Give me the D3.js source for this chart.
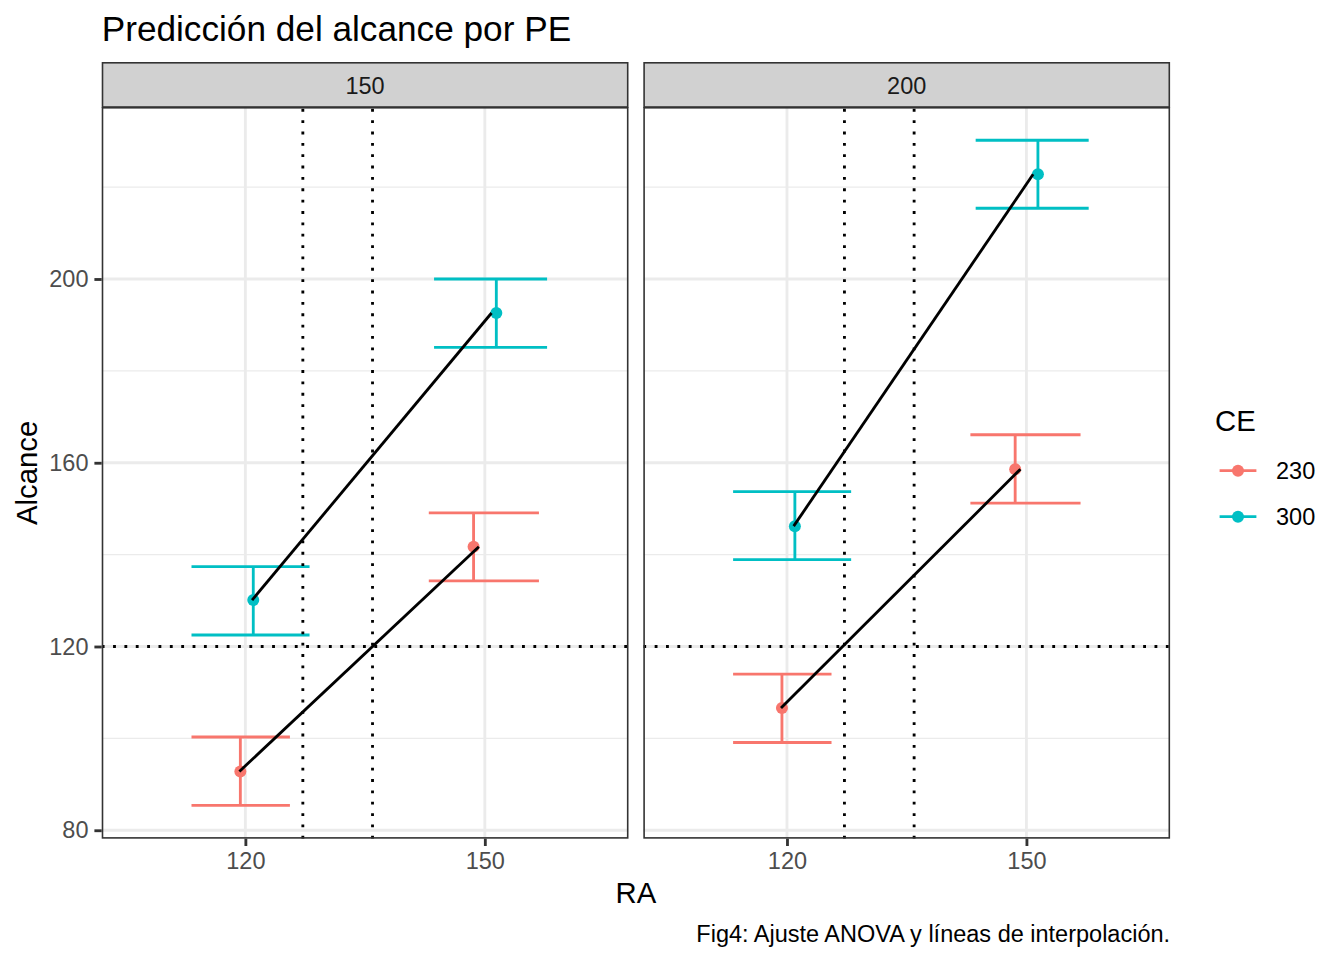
<html>
<script src="https://d3js.org/d3.v7.min.js"></script>
<style>
body{margin:0;background:#fff;}
</style>
<body>
<svg id="chart" width="1344" height="960"></svg>
<script>
// facetas (PE), niveles del eje x (RA), grupos de color (CE)
const paneles = ['150', '200'];
const niveles = ['120', '150'];
const grupos = ['230', '300'];
const colores = ['#F8766D', '#00BFC4'];

// ajuste ANOVA, formato largo
const pe       = ['150', '150', '150', '150', '200', '200', '200', '200'];
const ra       = ['120', '150', '120', '150', '120', '150', '120', '150'];
const ce       = ['230', '230', '300', '300', '230', '230', '300', '300'];
const ajuste   = [92.8, 141.7, 130.1, 192.6, 106.6, 158.6, 146.2, 222.8];
const inferior = [85.4, 134.3, 122.5, 185.1, 99.1, 151.2, 138.9, 215.4];
const superior = [100.3, 149.1, 137.4, 200.0, 114.0, 166.1, 153.7, 230.2];

// jitter (unidades del eje discreto)
const jitX    = [-0.021, -0.047, 0.033, 0.048, -0.021, -0.047, 0.033, 0.048];
const jitXmin = [-0.225, -0.234, -0.225, -0.212, -0.225, -0.234, -0.225, -0.212];
const jitXmax = [0.186, 0.226, 0.268, 0.260, 0.186, 0.226, 0.268, 0.260];
const jitLinea = [-0.025, 0.028];

// lineas de interpolacion
const corteY = [120];
const cortesX = [1.24, 1.531];

const yTicks = [80, 120, 160, 200];
const yMenores = [100, 140, 180, 220];

const FONT = '"Liberation Sans", Arial, Helvetica, sans-serif';
const lw = 2.84;
const panelTop = 107, panelBottom = 838.7;
const panelX = [[101.7, 628.5], [643.3, 1170.1]];

const svg = d3.select('#chart').attr('font-family', FONT);

const lo = d3.min(inferior), hi = d3.max(superior), pad = (hi - lo) * 0.05;
const y = d3.scaleLinear().domain([lo - pad, hi + pad]).range([panelBottom, panelTop]);
const pos = r => niveles.indexOf(r) + 1;
const color = c => colores[grupos.indexOf(c)];

function styleAxis(g){
  g.select('.domain').remove();
  g.attr('font-family', FONT).attr('font-size', 23.5);
  g.selectAll('line').attr('stroke', '#333333').attr('stroke-width', lw);
  g.selectAll('text').attr('fill', '#4D4D4D');
}

paneles.forEach((p, k) => {
  const [x0, x1] = panelX[k];
  const x = d3.scaleLinear().domain([0.4, 2.6]).range([x0, x1]);

  svg.append('clipPath').attr('id', 'clip' + k)
    .append('rect').attr('x', x0).attr('y', panelTop)
    .attr('width', x1 - x0).attr('height', panelBottom - panelTop);

  const g = svg.append('g').attr('clip-path', `url(#clip${k})`);

  g.append('rect').attr('x', x0).attr('y', panelTop)
    .attr('width', x1 - x0).attr('height', panelBottom - panelTop).attr('fill', '#fff');

  g.selectAll('.menor').data(yMenores).enter().append('line')
    .attr('x1', x0).attr('x2', x1).attr('y1', d => y(d)).attr('y2', d => y(d))
    .attr('stroke', '#EBEBEB').attr('stroke-width', lw / 2);
  g.selectAll('.mayorY').data(yTicks).enter().append('line')
    .attr('x1', x0).attr('x2', x1).attr('y1', d => y(d)).attr('y2', d => y(d))
    .attr('stroke', '#EBEBEB').attr('stroke-width', lw);
  g.selectAll('.mayorX').data(niveles).enter().append('line')
    .attr('x1', d => x(pos(d))).attr('x2', d => x(pos(d)))
    .attr('y1', panelTop).attr('y2', panelBottom)
    .attr('stroke', '#EBEBEB').attr('stroke-width', lw);

  const filas = d3.range(pe.length).filter(i => pe[i] === p);

  // barras de error
  g.selectAll('.err').data(filas).enter().append('path')
    .attr('d', i => {
      const c = pos(ra[i]);
      const xa = x(c + jitXmin[i]), xb = x(c + jitXmax[i]), xm = x(c + jitX[i]);
      const yu = y(superior[i]), yl = y(inferior[i]);
      return `M${xa},${yu}H${xb}M${xm},${yu}V${yl}M${xa},${yl}H${xb}`;
    })
    .attr('fill', 'none').attr('stroke', i => color(ce[i])).attr('stroke-width', lw);

  // puntos
  g.selectAll('.pt').data(filas).enter().append('circle')
    .attr('cx', i => x(pos(ra[i]) + jitX[i])).attr('cy', i => y(ajuste[i]))
    .attr('r', 6).attr('fill', i => color(ce[i]));

  // lineas de ajuste
  const linea = d3.line()
    .x(i => x(pos(ra[i]) + jitLinea[grupos.indexOf(ce[i])]))
    .y(i => y(ajuste[i]));
  grupos.forEach(c => {
    const sub = filas.filter(i => ce[i] === c).sort((a, b) => pos(ra[a]) - pos(ra[b]));
    g.append('path').attr('d', linea(sub))
      .attr('fill', 'none').attr('stroke', '#000').attr('stroke-width', lw);
  });

  // lineas de referencia punteadas
  g.selectAll('.hl').data(corteY).enter().append('line')
    .attr('x1', x0).attr('x2', x1).attr('y1', d => y(d)).attr('y2', d => y(d))
    .attr('stroke', '#000').attr('stroke-width', lw)
    .attr('stroke-dasharray', `${lw},${3 * lw}`);
  g.selectAll('.vl').data(cortesX).enter().append('line')
    .attr('x1', d => x(d)).attr('x2', d => x(d)).attr('y1', panelBottom).attr('y2', panelTop)
    .attr('stroke', '#000').attr('stroke-width', lw)
    .attr('stroke-dasharray', `${lw},${3 * lw}`);

  // borde
  svg.append('rect').attr('x', x0 + 0.8).attr('y', panelTop + 0.8)
    .attr('width', x1 - x0 - 1.6).attr('height', panelBottom - panelTop - 1.6)
    .attr('fill', 'none').attr('stroke', '#333333').attr('stroke-width', 1.6);

  // tira
  svg.append('rect').attr('x', x0 + 0.8).attr('y', 62.8)
    .attr('width', x1 - x0 - 1.6).attr('height', panelTop - 62.8)
    .attr('fill', '#D1D1D1').attr('stroke', '#333333').attr('stroke-width', 1.6);
  svg.append('text').attr('x', (x0 + x1) / 2).attr('y', 93.5)
    .attr('text-anchor', 'middle').attr('font-size', 23.5).attr('fill', '#1A1A1A')
    .text(p);

  // eje x
  svg.append('g').attr('transform', `translate(0,${panelBottom})`)
    .call(d3.axisBottom(x).tickValues(niveles.map(pos))
      .tickFormat(v => niveles[v - 1]).tickSize(7.3).tickPadding(5.9))
    .call(styleAxis);
});

// eje y
svg.append('g').attr('transform', `translate(${panelX[0][0]},0)`)
  .call(d3.axisLeft(y).tickValues(yTicks).tickSize(7.3).tickPadding(5.9))
  .call(styleAxis);

// titulos
svg.append('text').attr('x', 101.7).attr('y', 40.7)
  .attr('font-size', 35.2).attr('fill', '#000').text('Predicción del alcance por PE');
svg.append('text').attr('x', (panelX[0][0] + panelX[1][1]) / 2).attr('y', 903.3)
  .attr('text-anchor', 'middle').attr('font-size', 29.3).attr('fill', '#000').text('RA');
svg.append('text').attr('transform', `translate(37,${(panelTop + panelBottom) / 2}) rotate(-90)`)
  .attr('text-anchor', 'middle').attr('font-size', 29.3).attr('fill', '#000').text('Alcance');
svg.append('text').attr('x', panelX[1][1]).attr('y', 941.7)
  .attr('text-anchor', 'end').attr('font-size', 23.5).attr('fill', '#000')
  .text('Fig4: Ajuste ANOVA y líneas de interpolación.');

// leyenda
const leg = svg.append('g');
leg.append('text').attr('x', 1215).attr('y', 431)
  .attr('font-size', 29.3).attr('fill', '#000').text('CE');
const items = leg.selectAll('.item').data(grupos).enter().append('g')
  .attr('transform', (d, i) => `translate(1215,${470.7 + i * 46})`);
items.append('line').attr('x1', 4.6).attr('x2', 41.4)
  .attr('stroke', d => color(d)).attr('stroke-width', lw);
items.append('circle').attr('cx', 23).attr('r', 6).attr('fill', d => color(d));
items.append('text').attr('x', 61).attr('y', 8.5)
  .attr('font-size', 23.5).attr('fill', '#000').text(d => d);
</script>
</body>
</html>
